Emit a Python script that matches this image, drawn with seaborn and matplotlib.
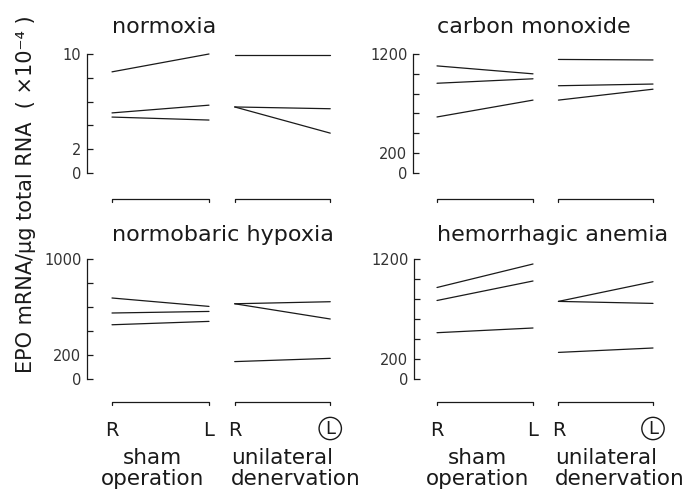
import numpy as np
import pandas as pd
import matplotlib
matplotlib.use("Agg")
import matplotlib.pyplot as plt
import seaborn as sns
from matplotlib.transforms import blended_transform_factory

# ---------------- data ----------------
panels = ["normoxia", "carbon monoxide", "normobaric hypoxia", "hemorrhagic anemia"]
groups = ["sham", "denervation"]
sides = ["R", "L"]

normoxia_sham_R = [8.5, 5.05, 4.7]
normoxia_sham_L = [10.0, 5.7, 4.45]
normoxia_den_R = [9.9, 5.55, 5.55]
normoxia_den_L = [9.9, 5.4, 3.35]

co_sham_R = [1080, 905, 565]
co_sham_L = [1000, 950, 735]
co_den_R = [1145, 880, 735]
co_den_L = [1140, 897, 845]

hypoxia_sham_R = [675, 550, 452]
hypoxia_sham_L = [605, 563, 480]
hypoxia_den_R = [627, 627, 145]
hypoxia_den_L = [644, 500, 172]

anemia_sham_R = [915, 785, 463]
anemia_sham_L = [1150, 980, 510]
anemia_den_R = [776, 776, 266]
anemia_den_L = [973, 756, 310]

y_max = [10, 1200, 1000, 1200]
y_step = [2, 200, 200, 200]
y_labeled = [[0, 2, 10], [0, 200, 1200], [0, 200, 1000], [0, 200, 1200]]

ylabel = "EPO mRNA/µg total RNA  ( ×10⁻⁴ )"
group_label_1 = ["sham", "operation"]
group_label_2 = ["unilateral", "denervation"]

values = {
    "normoxia": {("sham", "R"): normoxia_sham_R, ("sham", "L"): normoxia_sham_L,
                 ("denervation", "R"): normoxia_den_R, ("denervation", "L"): normoxia_den_L},
    "carbon monoxide": {("sham", "R"): co_sham_R, ("sham", "L"): co_sham_L,
                        ("denervation", "R"): co_den_R, ("denervation", "L"): co_den_L},
    "normobaric hypoxia": {("sham", "R"): hypoxia_sham_R, ("sham", "L"): hypoxia_sham_L,
                           ("denervation", "R"): hypoxia_den_R, ("denervation", "L"): hypoxia_den_L},
    "hemorrhagic anemia": {("sham", "R"): anemia_sham_R, ("sham", "L"): anemia_sham_L,
                           ("denervation", "R"): anemia_den_R, ("denervation", "L"): anemia_den_L},
}

# x positions of the categories (layout)
xpos = {("sham", "R"): 0.0, ("sham", "L"): 1.0,
        ("denervation", "R"): 1.265, ("denervation", "L"): 2.25}

rows = []
for p in panels:
    for g in groups:
        for s in sides:
            for i, v in enumerate(values[p][(g, s)]):
                rows.append(dict(panel=p, group=g, side=s, x=xpos[(g, s)],
                                 unit=f"{g}-{i}", value=v))
df = pd.DataFrame(rows)

# ---------------- figure ----------------
sns.set_theme(style="ticks")
plt.rcParams["font.family"] = ["DejaVu Sans"]
W, H = 695, 490
fig = plt.figure(figsize=(W / 100, H / 100), dpi=100)
fig.patch.set_facecolor("white")

ink = "#1a1a1a"
# layout: spine x, top px, bottom px, px per x unit, offset of first point, bracket gap, title baseline
layout = [
    (87, 54, 173, 97, 25, 26, 33),
    (413, 54, 173, 96, 24, 26, 33),
    (87, 259, 379, 97, 25, 23.5, 241),
    (414, 259, 379, 96, 23, 23.5, 241),
]
AX_W = 262

for k, p in enumerate(panels):
    left, top, bottom, scale, off, gap, tbase = layout[k]
    h = bottom - top
    ax = fig.add_axes([left / W, 1 - bottom / H, AX_W / W, h / H])
    ax.set_facecolor("none")
    sub = df[df.panel == p]
    sns.lineplot(data=sub, x="x", y="value", units="unit", estimator=None,
                 color=ink, lw=0.9, ax=ax, legend=False, clip_on=False)
    ax.set_xlim(-off / scale, (AX_W - off) / scale)
    ax.set_ylim(0, y_max[k])
    ax.set_xlabel("")
    ax.set_ylabel("")
    ticks = np.arange(0, y_max[k] + 1e-9, y_step[k])
    ax.set_yticks(ticks)
    ax.set_yticklabels([f"{t:g}" if t in y_labeled[k] else "" for t in ticks])
    ax.tick_params(axis="y", direction="in", length=4, width=0.9, color=ink,
                   labelsize=10.5, labelcolor="#333333", pad=4)
    ax.set_xticks([])
    for s in ["top", "right", "bottom"]:
        ax.spines[s].set_visible(False)
    ax.spines["left"].set_color(ink)
    ax.spines["left"].set_linewidth(0.9)

    tr = blended_transform_factory(ax.transData, ax.transAxes)

    def yf(ypx):
        return (bottom - ypx) / h

    # brackets under each group
    yb = -gap / h
    dt = 3 / h
    for g in groups:
        x0, x1 = xpos[(g, "R")], xpos[(g, "L")]
        ax.plot([x0, x0, x1, x1], [yb - dt, yb, yb, yb - dt], color=ink, lw=0.9,
                transform=tr, clip_on=False)

    # title
    ax.text(0, yf(tbase), p, transform=tr, ha="left", va="baseline",
            fontsize=16, color=ink)

    if k >= 2:
        yl = yf(436)
        ax.text(xpos[("sham", "R")], yl, "R", transform=tr, ha="center", va="baseline",
                fontsize=14, color=ink)
        ax.text(xpos[("sham", "L")], yl, "L", transform=tr, ha="center", va="baseline",
                fontsize=14, color=ink)
        ax.text(xpos[("denervation", "R")], yl, "R", transform=tr, ha="center",
                va="baseline", fontsize=14, color=ink)
        ax.text(xpos[("denervation", "L")], yf(428.5), "L", transform=tr, ha="center",
                va="center", fontsize=13, color=ink,
                bbox=dict(boxstyle="circle,pad=0.12", fc="none", ec=ink, lw=1.0))
        ax.text(0.42, yf(464), group_label_1[0], transform=tr, ha="center",
                va="baseline", fontsize=15.5, color=ink)
        ax.text(0.42, yf(485), group_label_1[1], transform=tr, ha="center",
                va="baseline", fontsize=15.5, color=ink)
        ax.text(1.23, yf(464), group_label_2[0], transform=tr, ha="left",
                va="baseline", fontsize=15.5, color=ink)
        ax.text(1.23, yf(485), group_label_2[1], transform=tr, ha="left",
                va="baseline", fontsize=15.5, color=ink)

fig.text(26 / W, 1 - 194 / H, ylabel, rotation=90, ha="center", va="center",
         fontsize=15, color=ink)

fig.savefig("out.png", dpi=100, facecolor="white")
